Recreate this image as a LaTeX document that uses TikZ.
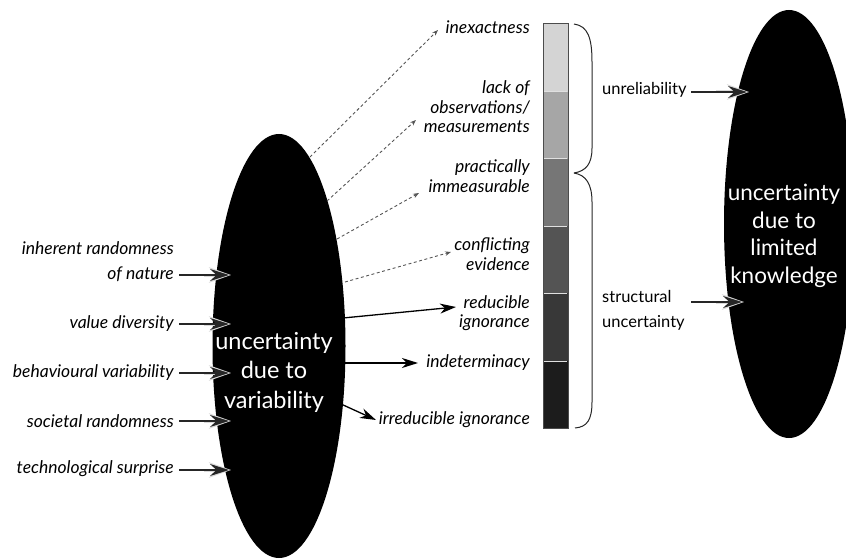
\documentclass[tikz,border=0pt]{standalone}
\usepackage{fontspec}
\setmainfont{Lato}
\usetikzlibrary{arrows.meta,shapes.geometric}
\definecolor{bA}{HTML}{D4D4D4}
\definecolor{bB}{HTML}{A6A6A6}
\definecolor{bC}{HTML}{767676}
\definecolor{bD}{HTML}{545454}
\definecolor{bE}{HTML}{383838}
\definecolor{bF}{HTML}{1C1C1C}
\definecolor{dashgray}{HTML}{555555}
\tikzset{
  blob/.style={ellipse, fill=black, draw=none, inner sep=0pt},
  bigtext/.style={text=white, align=center, inner sep=0pt},
  lbl/.style={font=\fontsize{17.5}{19.5}\selectfont\itshape, inner sep=0pt, align=right},
  rlbl/.style={font=\fontsize{16.5}{25}\selectfont, inner sep=0pt, align=left},
  halo/.style={white!85!black, line width=3pt, shorten >=-2pt, -{Stealth[length=22pt, width=15.5pt, inset=7.5pt]}},
  inarrow/.style={line width=1.6pt, black!85, -{Stealth[length=19pt, width=12pt, inset=6.5pt]}},
  outarrow/.style={line width=1.3pt, -{Stealth[length=16pt, width=10pt, inset=5pt]}},
  dasharrow/.style={dashgray, line width=0.9pt, dash pattern=on 3pt off 2.5pt, -{Stealth[length=6pt, width=4.5pt]}},
  bracepath/.style={line width=1pt, draw=black!85},
}
\begin{document}
\begin{tikzpicture}[x=1pt,y=-1pt]
\useasboundingbox (0,0) rectangle (846,559);
% ellipses
\node[blob, minimum width=133pt, minimum height=424pt] (var) at (279,346) {};
\node[blob, minimum width=130pt, minimum height=428pt] (know) at (789,224) {};
\node[bigtext, font=\fontsize{23.5}{29.5}\selectfont] (vartxt) at (274,372) {uncertainty\\due to\\variability};
\node[bigtext, font=\fontsize{22.5}{27.5}\selectfont] (knowtxt) at (784,236) {uncertainty\\due to\\limited\\knowledge};

% left labels
\node[lbl, anchor=east, font=\fontsize{17.5}{25}\selectfont\itshape] (l1) at (174,262) {inherent randomness\\of nature};
\node[lbl, anchor=east] (l2) at (174,324) {value diversity};
\node[lbl, anchor=east] (l3) at (174,373) {behavioural variability};
\node[lbl, anchor=east] (l4) at (174,421) {societal randomness};
\node[lbl, anchor=east] (l5) at (174,469) {technological surprise};
\coordinate (s1) at (179,275); \coordinate (e1) at (229,275);
\coordinate (s2) at (179,324); \coordinate (e2) at (229,324);
\coordinate (s3) at (179,373); \coordinate (e3) at (229,373);
\coordinate (s4) at (179,421); \coordinate (e4) at (229,421);
\coordinate (s5) at (179,470); \coordinate (e5) at (229,470);
\foreach \i in {1,...,5} {
  \draw[halo] ([xshift=25pt]s\i) -- (e\i);
  \draw[inarrow] (s\i) -- (e\i);
}

% middle labels
\node[lbl, anchor=east] (m1) at (530,27) {inexactness};
\node[lbl, anchor=east] (m2) at (530,107) {lack of\\observations/\\measurements};
\node[lbl, anchor=east] (m3) at (530,176) {practically\\immeasurable};
\node[lbl, anchor=east] (m4) at (530,254) {conflicting\\evidence};
\node[lbl, anchor=east] (m5) at (530,313) {reducible\\ignorance};
\node[lbl, anchor=east] (m6) at (530,363) {indeterminacy};
\node[lbl, anchor=east] (m7) at (530,420) {irreducible ignorance};

\coordinate (d1s) at (310,157); \coordinate (d1e) at (438,30);
\coordinate (d2s) at (327,201); \coordinate (d2e) at (416,120);
\coordinate (d3s) at (337,239); \coordinate (d3e) at (419,193);
\coordinate (d4s) at (345,282); \coordinate (d4e) at (451,252);
\draw[dasharrow] (d1s) -- (d1e);
\draw[dasharrow] (d2s) -- (d2e);
\draw[dasharrow] (d3s) -- (d3e);
\draw[dasharrow] (d4s) -- (d4e);

\coordinate (o1s) at (343,318); \coordinate (o1e) at (456,307);
\coordinate (o2s) at (343,363); \coordinate (o2e) at (418,363);
\coordinate (o3s) at (341,404); \coordinate (o3e) at (376,420);
\draw[outarrow] (o1s) -- (o1e);
\draw[outarrow] (o2s) -- (o2e);
\draw[outarrow] (o3s) -- (o3e);

% bar
\fill[bA] (543,23) rectangle (568,92);
\fill[bB] (543,92) rectangle (568,159);
\fill[bC] (543,159) rectangle (568,226);
\fill[bD] (543,226) rectangle (568,293);
\fill[bE] (543,293) rectangle (568,361);
\fill[bF] (543,361) rectangle (568,428);
\foreach \yy in {92,159,226,293,361}
  \draw[white!88!black, line width=1pt] (544,\yy) -- (567,\yy);
\draw[black!70, line width=0.9pt] (543,23) rectangle (568,428);

% braces
\draw[bracepath] (574,24) .. controls (588,26) and (592,38) .. (592,62)
  -- (592,148) .. controls (592,164) and (586,171) .. (574,173);
\draw[bracepath] (574,173) .. controls (586,175) and (592,184) .. (592,202)
  -- (592,402) .. controls (592,420) and (587,427) .. (575,428);

% right labels
\node[rlbl, anchor=west] (r1) at (602,90) {unreliability};
\node[rlbl, anchor=west] (r2) at (602,310) {structural\\uncertainty};
\coordinate (u1s) at (691,92); \coordinate (u1e) at (747,92);
\coordinate (u2s) at (691,302); \coordinate (u2e) at (742,302);
\draw[halo] ([xshift=25pt]u1s) -- (u1e);
\draw[inarrow] (u1s) -- (u1e);
\draw[halo] ([xshift=25pt]u2s) -- (u2e);
\draw[inarrow] (u2s) -- (u2e);
\end{tikzpicture}
\end{document}
